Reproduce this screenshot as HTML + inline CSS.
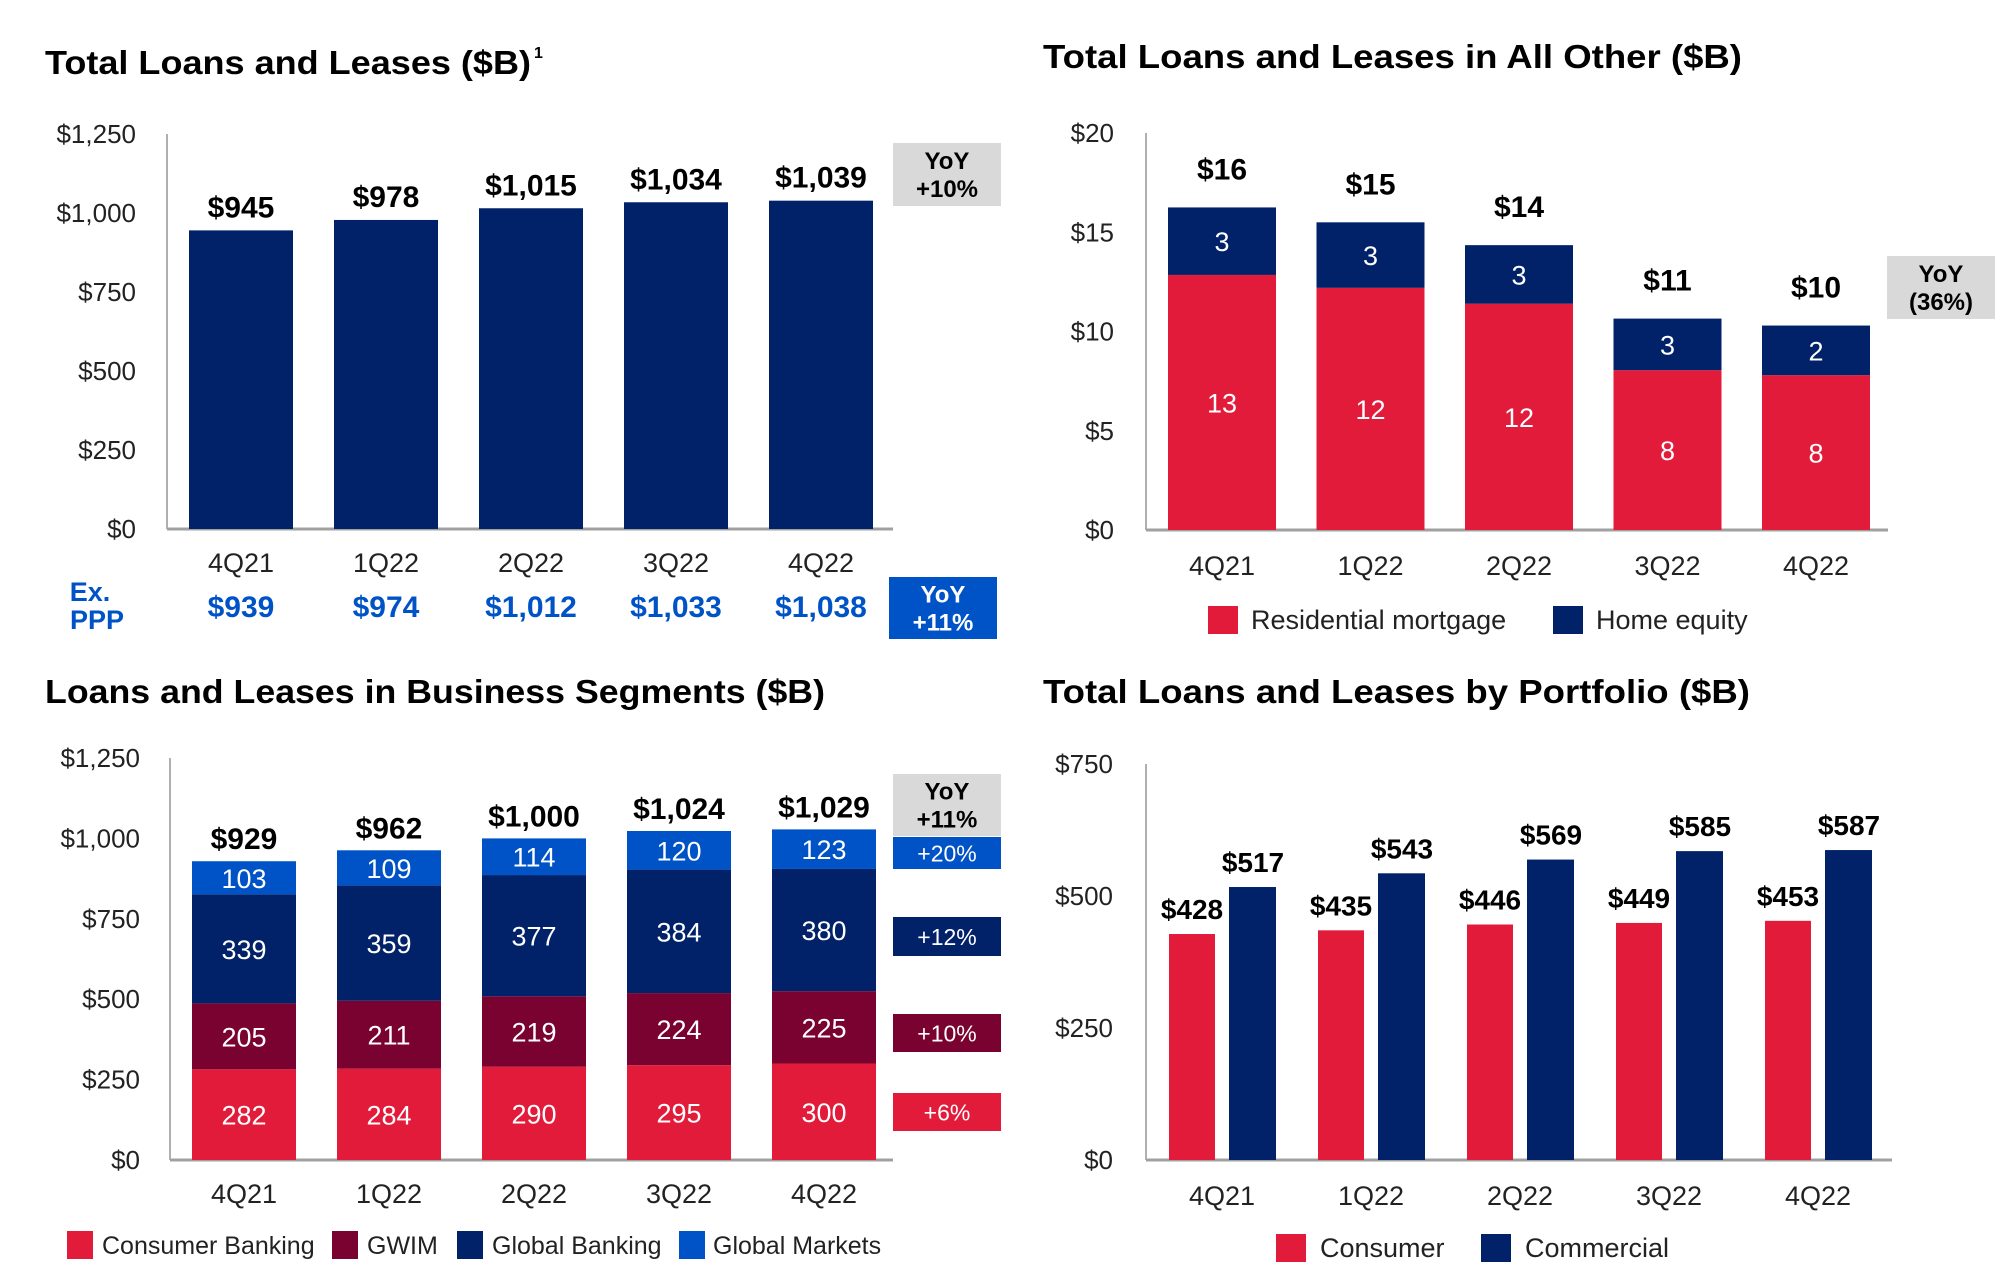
<!DOCTYPE html>
<html><head><meta charset="utf-8"><style>
html,body{margin:0;padding:0;background:#fff;}
svg{display:block;font-family:"Liberation Sans",sans-serif;}
</style></head><body>
<svg id="s" width="2008" height="1270" viewBox="0 0 2008 1270" xmlns="http://www.w3.org/2000/svg">
<g id="static">
<text x="45" y="74" font-size="33" font-weight="bold" fill="#000" textLength="486" lengthAdjust="spacingAndGlyphs">Total Loans and Leases ($B)</text>
<text x="534" y="58" font-size="16" font-weight="bold" fill="#000">1</text>
<text x="1043" y="68" font-size="33" font-weight="bold" fill="#000" textLength="699" lengthAdjust="spacingAndGlyphs">Total Loans and Leases in All Other ($B)</text>
<text x="45" y="703" font-size="33" font-weight="bold" fill="#000" textLength="780" lengthAdjust="spacingAndGlyphs">Loans and Leases in Business Segments ($B)</text>
<text x="1043" y="703" font-size="33" font-weight="bold" fill="#000" textLength="707" lengthAdjust="spacingAndGlyphs">Total Loans and Leases by Portfolio ($B)</text>
</g>
<g id="c1"></g>
<g id="c2"></g>
<g id="c3"></g>
<g id="c4"></g>
</svg>
<script>
const quarters = ["4Q21","1Q22","2Q22","3Q22","4Q22"];
// chart 1
const totalLoans = [945,978,1015,1034,1039];
const exPPP = [939,974,1012,1033,1038];
const ticks1 = [0,250,500,750,1000,1250];
// chart 2
const resMortgage = [12.85,12.2,11.4,8.05,7.8];
const homeEquity = [3.4,3.3,2.95,2.6,2.5];
const resLabels = [13,12,12,8,8];
const heLabels = [3,3,3,3,2];
const otherTotals = [16,15,14,11,10];
const ticks2 = [0,5,10,15,20];
// chart 3
const consumerBanking = [282,284,290,295,300];
const gwim = [205,211,219,224,225];
const globalBanking = [339,359,377,384,380];
const globalMarkets = [103,109,114,120,123];
const segTotals = [929,962,1000,1024,1029];
const ticks3 = [0,250,500,750,1000,1250];
// chart 4
const consumer = [428,435,446,449,453];
const commercial = [517,543,569,585,587];
const ticks4 = [0,250,500,750];

const NS="http://www.w3.org/2000/svg";
const RED="#e31b3b", NAVY="#012169", MAROON="#7a0230", BLUE="#0053c6";
function mk(parent,tag,attrs,txt){const e=document.createElementNS(NS,tag);for(const k in attrs)e.setAttribute(k,attrs[k]);if(txt!==undefined)e.textContent=txt;parent.appendChild(e);return e;}
function money(v){return "$"+v.toLocaleString("en-US");}
function scale(d0,d1,r0,r1){return v=>r0+(v-d0)/(d1-d0)*(r1-r0);}

function axes(g,x0,x1,yTop,yBase,ticks,fmt,labelRight,catY,xc){
  const y=scale(ticks[0],ticks[ticks.length-1],yBase,yTop);
  let l=mk(g,"line",{x1:x0,y1:yTop,x2:x0,y2:yBase,stroke:"#b0b0b0","stroke-width":2});
  
  
  let b=mk(g,"line",{x1:x0,y1:yBase,x2:x1,y2:yBase,stroke:"#a0a0a0","stroke-width":3});
  
  
  ticks.forEach(t=>{
    const tx=mk(g,"text",{x:labelRight,y:y(t)+9,"font-size":26,"text-anchor":"end",fill:"#222"},fmt(t));
    
    
  });
  quarters.forEach((q,i)=>{
    const tx=mk(g,"text",{x:xc(i),y:catY,"font-size":27,"text-anchor":"middle",fill:"#222"},q);
    
    
  });
  return y;
}
function box(g,x,y,w,h,fill,lines,color,name,fs,bold){
  const r=mk(g,"rect",{x:x,y:y,width:w,height:h,fill:fill});
  
  
  const n=lines.length, step=fs+4;
  lines.forEach((t,i)=>{
    const tx=mk(g,"text",{x:x+w/2,y:y+h/2+(i-(n-1)/2)*step+fs*0.36,"font-size":fs,"font-weight":bold?"bold":"normal","text-anchor":"middle",fill:color},t);
    
    
  });
}
function rect(g,x,y0,y1,w,fill,name){
  const r=mk(g,"rect",{x:x,y:Math.min(y0,y1),width:w,height:Math.abs(y1-y0),fill:fill});
  
  
  return r;
}
function label(g,x,y,t,fs,bold,color,name){
  const tx=mk(g,"text",{x:x,y:y,"font-size":fs,"font-weight":bold?"bold":"normal","text-anchor":"middle",fill:color},t);
  
  
}
function legend(g,items,y){
  items.forEach(it=>{
    const r=mk(g,"rect",{x:it.x,y:y-14,width:it.w||26,height:28,fill:it.c});
    
    
    const tx=mk(g,"text",{x:it.tx,y:y+9,"font-size":it.fs||25,fill:"#222"},it.t);
    
    
  });
}

// Chart 1
(function(){
  const g=document.getElementById("c1");
  const xc=i=>241+i*145;
  const y=axes(g,167,893,134,529,ticks1,v=>money(v),136,572,xc);
  totalLoans.forEach((v,i)=>{
    rect(g,xc(i)-52,y(0),y(v),104,NAVY,"bar-total-"+quarters[i]);
    label(g,xc(i),y(v)-13,money(v),30,true,"#000","bar-value-label");
  });
  exPPP.forEach((v,i)=>label(g,xc(i),617,money(v),30,true,BLUE,"ex-ppp-value"));
  label(g,90,601,"Ex.",27,true,BLUE,"ex-ppp-label");
  label(g,97,629,"PPP",27,true,BLUE,"ex-ppp-label");
  box(g,893,143,108,63,"#d9d9d9",["YoY","+10%"],"#000","yoy-box",24,true);
  box(g,889,577,108,62,BLUE,["YoY","+11%"],"#fff","yoy-ex-ppp-box",24,true);
})();

// Chart 2
(function(){
  const g=document.getElementById("c2");
  const xc=i=>1222+i*148.5;
  const y=axes(g,1146,1888,133,530,ticks2,v=>"$"+v,1114,575,xc);
  resMortgage.forEach((v,i)=>{
    const top=v+homeEquity[i];
    rect(g,xc(i)-54,y(0),y(v),108,RED,"bar-res-mortgage");
    rect(g,xc(i)-54,y(v),y(top),108,NAVY,"bar-home-equity");
    label(g,xc(i),(y(0)+y(v))/2+10,String(resLabels[i]),27,false,"#fff","segment-label");
    label(g,xc(i),(y(v)+y(top))/2+10,String(heLabels[i]),27,false,"#fff","segment-label");
    label(g,xc(i),y(top)-28,"$"+otherTotals[i],30,true,"#000","total-label");
  });
  box(g,1887,256,108,63,"#d9d9d9",["YoY","(36%)"],"#000","yoy-box",24,true);
  legend(g,[{x:1208,c:RED,tx:1251,t:"Residential mortgage",w:30,fs:27},{x:1553,c:NAVY,tx:1596,t:"Home equity",w:30,fs:27}],620);
})();

// Chart 3
(function(){
  const g=document.getElementById("c3");
  const xc=i=>244+i*145;
  const y=axes(g,170,893,758,1160,ticks3,v=>money(v),140,1203,xc);
  const series=[[consumerBanking,RED,"consumer-banking"],[gwim,MAROON,"gwim"],[globalBanking,NAVY,"global-banking"],[globalMarkets,BLUE,"global-markets"]];
  quarters.forEach((q,i)=>{
    let acc=0;
    series.forEach(s=>{
      const v=s[0][i];
      rect(g,xc(i)-52,y(acc),y(acc+v),104,s[1],"bar-"+s[2]);
      label(g,xc(i),(y(acc)+y(acc+v))/2+10,String(v),27,false,"#fff","segment-label");
      acc+=v;
    });
    label(g,xc(i),y(acc)-12,money(segTotals[i]),30,true,"#000","total-label");
  });
  box(g,893,774,108,62,"#d9d9d9",["YoY","+11%"],"#000","yoy-box",24,true);
  box(g,893,837,108,32,BLUE,["+20%"],"#fff","yoy-global-markets",23,false);
  box(g,893,917,108,39,NAVY,["+12%"],"#fff","yoy-global-banking",23,false);
  box(g,893,1014,108,38,MAROON,["+10%"],"#fff","yoy-gwim",23,false);
  box(g,893,1093,108,38,RED,["+6%"],"#fff","yoy-consumer-banking",23,false);
  legend(g,[{x:67,c:RED,tx:102,t:"Consumer Banking"},{x:332,c:MAROON,tx:367,t:"GWIM"},{x:457,c:NAVY,tx:492,t:"Global Banking"},{x:679,c:BLUE,tx:713,t:"Global Markets"}],1245);
})();

// Chart 4
(function(){
  const g=document.getElementById("c4");
  const xc=i=>1222+i*149;
  const y=axes(g,1146,1892,764,1160,ticks4,v=>"$"+v,1113,1205,xc);
  consumer.forEach((v,i)=>{
    rect(g,xc(i)-53,y(0),y(v),46,RED,"bar-consumer");
    label(g,xc(i)-30,y(v)-15,"$"+v,28,true,"#000","consumer-value");
  });
  commercial.forEach((v,i)=>{
    rect(g,xc(i)+7,y(0),y(v),47,NAVY,"bar-commercial");
    label(g,xc(i)+31,y(v)-15,"$"+v,28,true,"#000","commercial-value");
  });
  legend(g,[{x:1276,c:RED,tx:1320,t:"Consumer",w:30,fs:27},{x:1481,c:NAVY,tx:1525,t:"Commercial",w:30,fs:27}],1248);
})();
</script>
</body></html>
